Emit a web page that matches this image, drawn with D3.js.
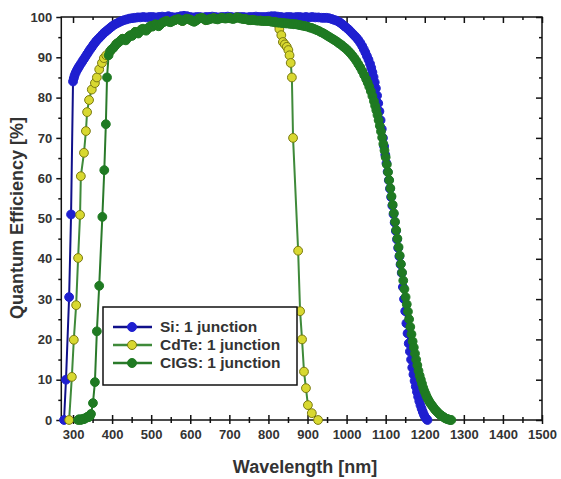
<!DOCTYPE html>
<html>
<head>
<meta charset="utf-8">
<script src="https://cdn.jsdelivr.net/npm/d3@7"></script>
<style>
  body { margin: 0; background: #fff; }
  text { font-family: "Liberation Sans", Arial, sans-serif; font-weight: bold; fill: #333; }
</style>
</head>
<body>
<div id="plot"></div>
<script>
// data: [wavelength nm, QE %]
const si = [
  [277,0],[282,10],[290,30.5],[295,51],[300,84],[302,84.8],[304,85.5],[307,86.2],[310,86.8],
  [313,87.3],[316,87.8],[320,88.4],[324,89],[328,89.6],[332,90.2],[336,90.8],[340,91.4],
  [344,92],[348,92.5],[352,93.1],[356,93.6],[360,94.1],[365,94.6],[370,95.1],[375,95.6],
  [380,96.1],[385,96.5],[390,96.9],[395,97.3],[400,97.7],[406,98.1],[412,98.4],[418,98.7],
  [424,99],[430,99.2],[437,99.4],[444,99.6],[451,99.7],[458,99.8],[465,99.9],
  [472,99.9],[480,100],[488,99.9],[496,100],[504,100],[512,99.9],[520,100],[528,100.1],
  [536,100],[544,100.2],[552,100],[560,99.9],[568,100],[576,100.2],[584,100.3],[592,100.2],
  [600,100],[608,99.9],[616,100],[624,100],[632,99.9],[640,100],[648,100],[656,100.1],
  [664,100],[672,99.9],[680,100],[688,100],[696,100.1],[704,100],[712,99.9],[720,100],
  [728,100],[736,100],[744,99.9],[752,100],[760,100],[768,100.1],[776,100],[784,100],
  [792,100],[800,100.1],[808,100.2],[816,100.2],[824,100.1],[832,100],[840,99.9],[848,100],
  [856,100],[864,99.9],[872,100],[880,100],[888,99.9],[896,100],[904,99.9],[912,100],
  [920,99.9],[928,99.9],[936,99.8],[942,99.8],
  [948,99.8],[955,99.7],[962,99.5],[968,99.3],[974,99.1],[980,98.8],[985,98.5],[990,98.1],
  [995,97.7],[1000,97.3],[1005,96.9],[1010,96.4],[1015,95.9],[1020,95.4],[1025,94.9],
  [1030,94.3],[1035,93.6],[1040,92.8],[1044,92],[1048,91.2],[1052,90.3],[1056,89.4],
  [1060,88.4],[1063,87.4],[1066,86.3],[1069,85.1],[1072,83.8],[1075,82.3],[1078,80.5],
  [1081,78.6],[1084,76.6],[1087,74.4],[1090,72.2],[1093,70],[1096,67.9],[1099,65.8],
  [1102,63.7],[1105,61.6],[1108,59.5],[1111,57.4],[1114,55.3],[1117,53.2],[1120,51.1],
  [1123,49],[1126,46.9],[1129,44.8],[1132,42.7],[1135,40.6],[1138,38.6],[1141,36.5],
  [1144,33],[1147,30],[1150,27],[1153,24],[1156,21.5],[1159,19],[1162,17],[1165,15],
  [1168,13],[1171,11.3],[1174,9.7],[1177,8.3],[1180,7],[1183,5.8],[1186,4.7],[1189,3.7],
  [1192,2.8],[1195,2],[1198,1.3],[1201,0.7],[1204,0.3],[1207,0]
];

const cdte = [
  [290,0],[297,10.7],[302,19.9],[308,28.5],[313,40.2],[318,50.9],[320,60.5],[328,66.3],
  [333,71.7],[336,76.4],[341,79.4],[348,82],[356,83.6],[361,85],[367,87],[374,88.6],
  [379,89.8],[385,90.5],[395,91.5],[411,93.3],[427,94.6],[443,95.2],[459,96.3],[475,96.9],
  [491,97.1],[507,97.9],[523,98.1],[540,99],[560,99.2],[580,99],[600,99.3],[620,99.5],
  [640,99.2],[660,99.7],[680,99.8],[700,99.8],[720,99.9],[740,99.5],[760,99.3],[780,99.1],
  [800,99],[815,98.8],[822,98.4],[828,97],[833,95.5],[837,93.8],[842,93.2],[847,92.6],
  [851,91.8],[854,90.5],[857,88.6],[860,85],[863,70],[876,42],[881,27],[886,20],[891,12],
  [896,7.9],[901,3.7],[911,1.7],[927,0]
];

const cigs = [
  [313,0],[316,0.2],[319,0],[322,0.1],[325,0.3],[328,0.2],[331,0.4],[334,0.6],[337,0.8],
  [340,0.7],[343,0.9],[346,1.5],[351,4.2],[356,9.4],[361,22],[367,33.3],[375,50.4],[380,62],
  [384,73.4],[387,85],[391,90.5],[395,91.5],[399,92],[403,92.3],[407,92.8],[411,93.3],
  [415,93.6],[419,93.9],[423,94.3],[427,94.6],[431,94.4],[435,94.2],[439,94.7],[443,95.2],
  [447,95.5],[451,95.3],[455,95.8],[459,96.3],[463,96.1],[467,95.9],[471,96.4],[475,96.9],
  [479,97.1],[483,96.8],[487,96.6],[491,97.1],[495,97.5],[499,97.8],[503,97.6],[507,97.9],
  [511,98.2],[515,98],[519,97.7],[523,98.1],[527,98.5],[531,98.7],[535,98.9],[540,99],
  [545,98.8],[550,98.7],[555,99],[560,99.2],[565,99.4],[570,99.5],[575,99.2],[580,99],
  [585,99.3],[590,99.6],[595,99.5],[600,99.3],[605,99],[610,98.8],[615,99.1],[620,99.5],
  [625,99.7],[630,99.8],[635,99.5],[640,99.2],[645,99.3],[650,99.5],[655,99.6],[660,99.7],
  [665,99.5],[670,99.4],[675,99.6],[680,99.8],[685,99.7],[690,99.6],[695,99.7],[700,99.8],
  [705,99.6],[710,99.5],[715,99.7],[720,99.9],[725,99.8],[730,99.6],[735,99.5],[740,99.5],
  [745,99.4],[750,99.2],[755,99.2],[760,99.3],[765,99.2],[770,99.1],[775,99.1],[780,99.1],
  [785,99],[790,99],[795,99],[800,99],[805,98.9],[810,98.8],[815,98.8],[820,98.7],
  [825,98.6],[830,98.6],[835,98.5],[840,98.5],[845,98.4],[850,98.4],[855,98.3],[860,98.3],
  [865,98.2],[870,98.2],[875,98.1],[880,98],[885,97.9],[890,97.8],[895,97.7],[900,97.6],
  [905,97.4],[910,97.3],[915,97.1],[920,96.9],[925,96.7],[930,96.5],[935,96.2],[940,96],
  [945,95.7],[950,95.4],[955,95.1],[960,94.8],[965,94.5],[970,94.2],[975,93.9],[980,93.5],
  [985,93.2],[990,92.8],[995,92.4],[1000,92],[1005,91.5],[1010,91],[1015,90.4],[1020,89.8],
  [1025,89.1],[1030,88.3],[1035,87.5],[1040,86.6],[1045,85.6],[1050,84.6],[1054,83.7],
  [1058,82.7],[1062,81.6],[1066,80.4],[1070,79.1],[1073,78],[1076,76.9],[1079,75.7],
  [1082,74.4],[1085,73],[1088,71.6],[1091,70.1],[1094,68.5],[1097,66.9],[1100,65.2],
  [1103,63.4],[1106,61.5],[1109,59.5],[1112,57.5],[1115,55.5],[1118,53.4],[1121,51.3],
  [1124,49.2],[1127,47.1],[1130,45],[1133,42.9],[1136,40.8],[1139,38.7],[1142,36.6],
  [1145,34.6],[1148,32.5],[1151,30.5],[1154,28.7],[1157,26.9],[1160,25],[1163,23.1],
  [1166,21.3],[1169,19.5],[1172,18],[1175,16.5],[1178,15],[1181,13.6],[1184,12.2],
  [1187,11],[1190,10],[1193,9],[1196,8],[1199,7.2],[1202,6.5],[1205,5.8],[1208,5.2],
  [1211,4.7],[1214,4.2],[1217,3.8],[1220,3.4],[1223,3],[1226,2.6],[1229,2.3],[1232,2],
  [1235,1.7],[1238,1.4],[1241,1.2],[1244,1],[1247,0.8],[1250,0.6],[1253,0.4],[1256,0.3],
  [1259,0.2],[1262,0.1],[1265,0],[1268,0]
];

const seriesNames = ["Si: 1 junction", "CdTe: 1 junction", "CIGS: 1 junction"];
const xTicks = d3.range(300, 1501, 100);
const yTicks = d3.range(0, 101, 10);

const styles = [
  { line: "#10108a", fill: "#1f1fd0", stroke: "#1f1fd0" },
  { line: "#3f8a3a", fill: "#d8d830", stroke: "#7a7a10" },
  { line: "#2a7a2a", fill: "#1f7a22", stroke: "#1f7a22" }
];

const W = 561, H = 479;
const svg = d3.select("#plot").append("svg")
  .attr("width", W).attr("height", H);

const xScale = d3.scaleLinear().domain([270, 1500]).range([61.3, 542]);
const yScale = d3.scaleLinear().domain([0, 100]).range([420, 17]);

// frame
svg.append("rect")
  .attr("x", xScale(270)).attr("y", yScale(100))
  .attr("width", xScale(1500) - xScale(270))
  .attr("height", yScale(0) - yScale(100))
  .attr("fill", "none").attr("stroke", "#111").attr("stroke-width", 1.5);

const minorX = d3.range(350, 1500, 100);
const minorY = d3.range(5, 100, 10);

// bottom axis: major ticks cross the line
svg.append("g")
  .attr("transform", "translate(0," + yScale(0) + ")")
  .call(d3.axisBottom(xScale).tickValues(xTicks).tickSize(4).tickPadding(6).tickFormat(d3.format("d")))
  .call(g => g.select(".domain").remove())
  .call(g => g.selectAll(".tick line").attr("y1", -5).attr("stroke-width", 1.5).attr("stroke", "#111"))
  .call(g => g.selectAll(".tick text").attr("font-size", 13));
svg.append("g")
  .attr("transform", "translate(0," + yScale(0) + ")")
  .call(d3.axisBottom(xScale).tickValues(minorX).tickSize(3).tickFormat(""))
  .call(g => g.select(".domain").remove())
  .call(g => g.selectAll(".tick line").attr("y1", -3).attr("stroke-width", 1.5).attr("stroke", "#111"));

// top axis: ticks inward
svg.append("g")
  .attr("transform", "translate(0," + yScale(100) + ")")
  .call(d3.axisTop(xScale).tickValues(xTicks).tickSize(-6).tickFormat(""))
  .call(g => g.select(".domain").remove())
  .call(g => g.selectAll(".tick line").attr("stroke-width", 1.5).attr("stroke", "#111"));
svg.append("g")
  .attr("transform", "translate(0," + yScale(100) + ")")
  .call(d3.axisTop(xScale).tickValues(minorX).tickSize(-3).tickFormat(""))
  .call(g => g.select(".domain").remove())
  .call(g => g.selectAll(".tick line").attr("stroke-width", 1.5).attr("stroke", "#111"));

// left axis: ticks outward
svg.append("g")
  .attr("transform", "translate(" + xScale(270) + ",0)")
  .call(d3.axisLeft(yScale).tickValues(yTicks).tickSize(5).tickPadding(4))
  .call(g => g.select(".domain").remove())
  .call(g => g.selectAll(".tick line").attr("stroke-width", 1.5).attr("stroke", "#111"))
  .call(g => g.selectAll(".tick text").attr("font-size", 13));
svg.append("g")
  .attr("transform", "translate(" + xScale(270) + ",0)")
  .call(d3.axisLeft(yScale).tickValues(minorY).tickSize(3).tickFormat(""))
  .call(g => g.select(".domain").remove())
  .call(g => g.selectAll(".tick line").attr("stroke-width", 1.5).attr("stroke", "#111"));

// right axis: ticks inward
svg.append("g")
  .attr("transform", "translate(" + xScale(1500) + ",0)")
  .call(d3.axisRight(yScale).tickValues(yTicks).tickSize(-6).tickFormat(""))
  .call(g => g.select(".domain").remove())
  .call(g => g.selectAll(".tick line").attr("stroke-width", 1.5).attr("stroke", "#111"));
svg.append("g")
  .attr("transform", "translate(" + xScale(1500) + ",0)")
  .call(d3.axisRight(yScale).tickValues(minorY).tickSize(-3).tickFormat(""))
  .call(g => g.select(".domain").remove())
  .call(g => g.selectAll(".tick line").attr("stroke-width", 1.5).attr("stroke", "#111"));

// axis titles
svg.append("text")
  .attr("x", 305).attr("y", 473)
  .attr("text-anchor", "middle").attr("font-size", 18)
  .text("Wavelength [nm]");
svg.append("text")
  .attr("transform", "translate(23,218) rotate(-90)")
  .attr("text-anchor", "middle").attr("font-size", 18)
  .text("Quantum Efficiency [%]");

const line = d3.line()
  .x(d => xScale(d[0]))
  .y(d => yScale(d[1]));

const allSeries = [si, cdte, cigs];
allSeries.forEach((data, i) => {
  const st = styles[i];
  svg.append("path")
    .datum(data)
    .attr("d", line)
    .attr("fill", "none")
    .attr("stroke", st.line)
    .attr("stroke-width", 2);
  svg.append("g").selectAll("circle")
    .data(data)
    .join("circle")
    .attr("cx", d => xScale(d[0]))
    .attr("cy", d => yScale(d[1]))
    .attr("r", 4.4)
    .attr("fill", st.fill)
    .attr("stroke", st.stroke)
    .attr("stroke-width", 1);
});

// legend
const lg = svg.append("g");
lg.append("rect")
  .attr("x", 103).attr("y", 307)
  .attr("width", 194).attr("height", 78)
  .attr("fill", "#fff").attr("stroke", "#111").attr("stroke-width", 1.5);
seriesNames.forEach((name, i) => {
  const y = 327 + i * 18;
  const st = styles[i];
  lg.append("line")
    .attr("x1", 113).attr("x2", 152).attr("y1", y).attr("y2", y)
    .attr("stroke", st.line).attr("stroke-width", 2.5);
  lg.append("circle")
    .attr("cx", 132).attr("cy", y).attr("r", 4.5)
    .attr("fill", st.fill).attr("stroke", st.stroke);
  lg.append("text")
    .attr("x", 160).attr("y", y + 5)
    .attr("font-size", 15.5)
    .text(name);
});
</script>
</body>
</html>
